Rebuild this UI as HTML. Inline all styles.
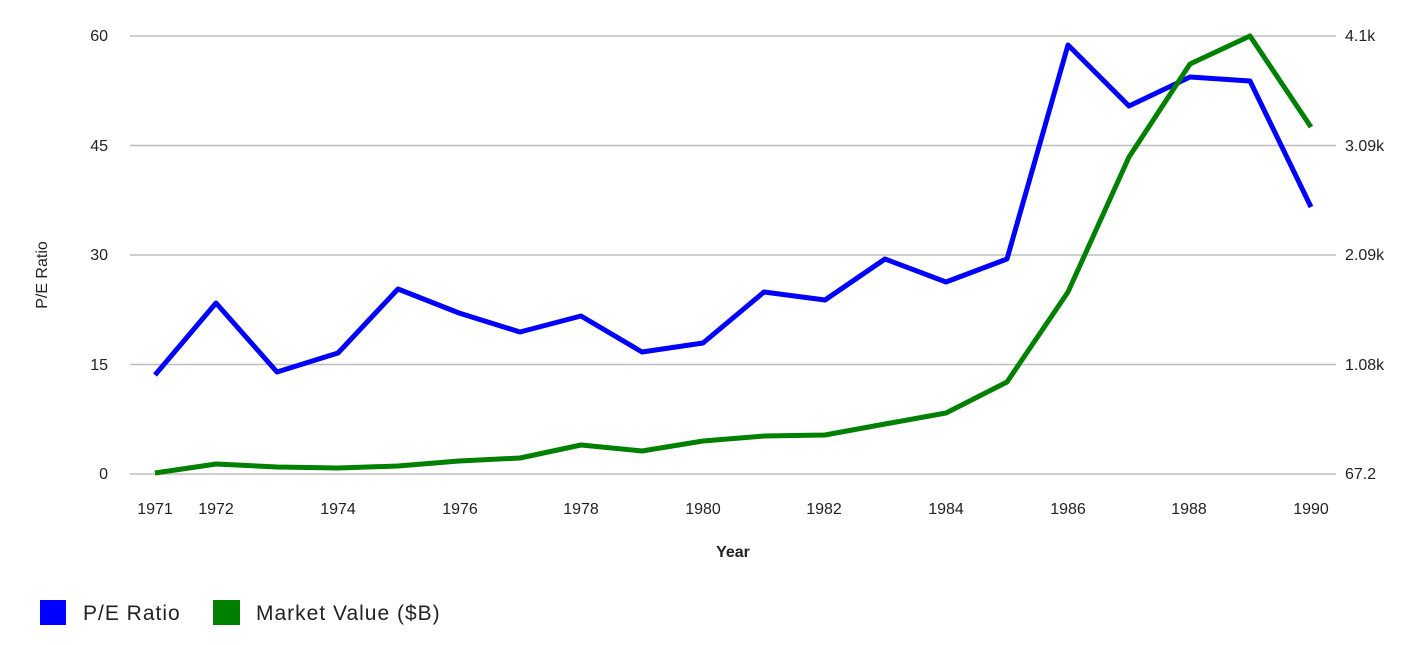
<!DOCTYPE html>
<html><head><meta charset="utf-8"><style>
html,body{margin:0;padding:0;background:#fff;}
svg{display:block;font-family:"Liberation Sans",sans-serif;}
</style></head><body>
<svg width="1427" height="645" viewBox="0 0 1427 645">
<rect width="1427" height="645" fill="#fff"/>
<g stroke="#bdbdbd" stroke-width="1.5">
<line x1="130" x2="1336" y1="36" y2="36"/>
<line x1="130" x2="1336" y1="145.5" y2="145.5"/>
<line x1="130" x2="1336" y1="255" y2="255"/>
<line x1="130" x2="1336" y1="364.5" y2="364.5"/>
<line x1="130" x2="1336" y1="474" y2="474"/>
</g>
<g fill="#222" font-size="16" text-anchor="end">
<text x="108" y="41">60</text>
<text x="108" y="151">45</text>
<text x="108" y="260">30</text>
<text x="108" y="370">15</text>
<text x="108" y="479">0</text>
</g>
<g fill="#222" font-size="16" text-anchor="start">
<text x="1345" y="41">4.1k</text>
<text x="1345" y="151">3.09k</text>
<text x="1345" y="260">2.09k</text>
<text x="1345" y="370">1.08k</text>
<text x="1345" y="479">67.2</text>
</g>
<g fill="#222" font-size="16" text-anchor="middle">
<text x="155" y="514">1971</text>
<text x="216" y="514">1972</text>
<text x="338" y="514">1974</text>
<text x="460" y="514">1976</text>
<text x="581" y="514">1978</text>
<text x="703" y="514">1980</text>
<text x="824" y="514">1982</text>
<text x="946" y="514">1984</text>
<text x="1068" y="514">1986</text>
<text x="1189" y="514">1988</text>
<text x="1311" y="514">1990</text>
</g>
<text x="733" y="557" fill="#222" font-size="16" font-weight="bold" text-anchor="middle">Year</text>
<text transform="translate(47,275) rotate(-90)" fill="#222" font-size="16" text-anchor="middle">P/E Ratio</text>
<polyline fill="none" stroke="#0000ff" stroke-width="5" stroke-linejoin="round" points="155,375 216,303 277,372 338,353 398,289 459,313 520,332 581,316 642,352 703,343 764,292 825,300 885,259 946,282 1007,259 1068,45 1129,106 1190,77 1250,81 1311,207"/>
<polyline fill="none" stroke="#008000" stroke-width="5" stroke-linejoin="round" points="155,473 216,464 277,467 338,468 398,466 459,461 520,458 581,445 642,451 703,441 764,436 825,435 885,424 946,413 1007,382 1068,292 1129,157 1190,64 1250,36 1311,127"/>
<rect x="40" y="600" width="26" height="25" fill="#0000ff"/>
<text x="83" y="620" fill="#222" font-size="21" letter-spacing="1">P/E Ratio</text>
<rect x="213" y="600" width="27" height="25" fill="#008000"/>
<text x="256" y="620" fill="#222" font-size="21" letter-spacing="1">Market Value ($B)</text>
</svg>
</body></html>
